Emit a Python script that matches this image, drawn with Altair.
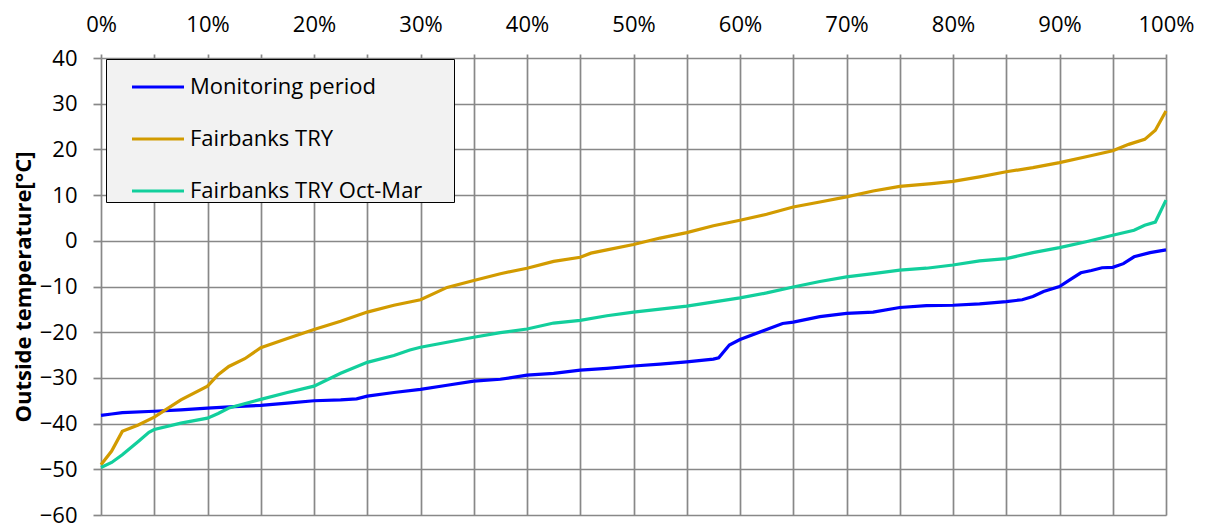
import altair as alt
import pandas as pd

# ---- data ----
mon_x = [0, 1, 2, 5, 7.5, 10, 12.5, 15, 17.5, 20, 22.5, 24, 25, 27.5, 30, 32.5, 35, 37.5, 40, 42.5,
         45, 47.5, 50, 52.5, 55, 57.5, 58, 59, 60, 62.5, 64, 65, 67.5, 70, 72.5, 75, 77.5, 80, 82.5,
         85, 86.5, 87.5, 88.5, 90, 91, 92, 93, 94, 95, 96, 97, 98.5, 100]
mon_y = [-38.2, -37.9, -37.6, -37.3, -37.0, -36.6, -36.3, -36.0, -35.5, -35.0, -34.8, -34.6, -34.0,
         -33.2, -32.5, -31.6, -30.7, -30.3, -29.4, -29.0, -28.3, -27.9, -27.4, -27.0, -26.5, -25.9,
         -25.6, -22.8, -21.6, -19.4, -18.1, -17.8, -16.6, -15.9, -15.6, -14.6, -14.2, -14.1, -13.8,
         -13.3, -12.9, -12.2, -11.1, -10.0, -8.5, -7.0, -6.5, -5.9, -5.8, -5.0, -3.5, -2.6, -2.0]

try_x = [0, 1, 2, 3.5, 5, 7.5, 10, 11, 12, 13.5, 15, 17.5, 20, 22.5, 25, 27.5, 30, 32.5, 35, 37.5,
         40, 42.5, 45, 46, 47.5, 50, 52.5, 55, 57.5, 60, 62.5, 65, 67.5, 70, 72.5, 75, 78, 80, 82.5,
         85, 87.5, 90, 92.5, 95, 96.5, 98, 99, 100]
try_y = [-49.0, -46.0, -41.7, -40.3, -38.6, -34.8, -31.8, -29.3, -27.5, -25.8, -23.4, -21.4, -19.4,
         -17.6, -15.6, -14.1, -12.9, -10.2, -8.7, -7.2, -6.0, -4.5, -3.6, -2.7, -2.0, -0.8, 0.6, 1.8,
         3.3, 4.5, 5.8, 7.4, 8.5, 9.6, 10.9, 11.9, 12.5, 13.0, 14.0, 15.1, 16.0, 17.1, 18.4, 19.7,
         21.1, 22.2, 24.2, 28.4]

om_x = [0, 1, 2, 3.5, 4.5, 5, 7.5, 10, 11, 12, 15, 17.5, 20, 22.5, 25, 27.5, 29, 30, 32.5, 35, 37.5,
        40, 42.5, 45, 47.5, 50, 55, 60, 62.5, 65, 67.5, 70, 72.5, 75, 77.5, 80, 82.5, 85, 87.5, 90,
        92.5, 95, 97, 98, 99, 100]
om_y = [-49.6, -48.5, -46.8, -43.9, -41.9, -41.3, -39.9, -38.8, -37.8, -36.6, -34.7, -33.2, -31.8,
        -29.0, -26.6, -25.1, -23.9, -23.3, -22.2, -21.1, -20.1, -19.3, -18.0, -17.4, -16.4, -15.6,
        -14.3, -12.5, -11.4, -10.1, -8.9, -7.9, -7.2, -6.4, -6.0, -5.3, -4.4, -3.9, -2.6, -1.5, -0.2,
        1.2, 2.3, 3.4, 4.1, 8.9]

series_names = ["Monitoring period", "Fairbanks TRY", "Fairbanks TRY Oct-Mar"]
series_colors = ["#0000FF", "#D29B00", "#12CF9C"]
x_ticks = [i / 20 for i in range(21)]
y_ticks = list(range(-60, 41, 10))

rows = []
for name, xs, ys in zip(series_names, [mon_x, try_x, om_x], [mon_y, try_y, om_y]):
    for i, (a, b) in enumerate(zip(xs, ys)):
        rows.append({"series": name, "p": a / 100.0, "t": b, "order": i})
df = pd.DataFrame(rows)

FONT = "Open Sans"
GRID = "#888888"
FS = 22

chart = alt.Chart(df).mark_line(strokeWidth=3.2).encode(
    x=alt.X("p:Q",
            scale=alt.Scale(domain=[0, 1], nice=False, zero=False),
            axis=alt.Axis(orient="top", values=x_ticks, format=".0%",
                          labelExpr="round(datum.value*100) % 10 == 0 ? datum.label : ''",
                          title=None, grid=True, gridColor=GRID, gridWidth=1.7,
                          tickColor=GRID, tickWidth=1.7, tickSize=4, domain=False,
                          labelFont=FONT, labelFontSize=FS, labelColor="black",
                          labelPadding=18, labelFlush=False)),
    y=alt.Y("t:Q",
            scale=alt.Scale(domain=[-60, 40], nice=False, zero=False),
            axis=alt.Axis(values=y_ticks, title="Outside temperature[°C]",
                          grid=True, gridColor=GRID, gridWidth=1.7,
                          tickColor=GRID, tickWidth=1.7, tickSize=8, domain=False,
                          labelFont=FONT, labelFontSize=FS, labelColor="black",
                          labelPadding=16,
                          titleFont=FONT, titleFontSize=22, titleFontWeight="bold",
                          titleColor="black", titlePadding=4)),
    color=alt.Color("series:N",
                    scale=alt.Scale(domain=series_names, range=series_colors),
                    legend=alt.Legend(orient="none", legendX=5, legendY=1,
                                      title=" ", titleOrient="right", titlePadding=32,
                                      titleFontSize=FS,
                                      symbolType="stroke", symbolSize=2704,
                                      symbolStrokeWidth=3.2, symbolOffset=24,
                                      labelFont=FONT, labelFontSize=FS, labelColor="black",
                                      labelLimit=500,
                                      labelOffset=4, padding=0, rowPadding=13,
                                      fillColor="#F2F2F2", strokeColor="black")),
    order="order:Q",
).properties(
    width=1065, height=457,
    autosize=alt.AutoSizeParams(type="none"),
    padding={"left": 93, "top": 50, "right": 38, "bottom": 16},
).configure_view(stroke=None).configure(background="white")

chart.save("out.html", embed_options={"renderer": "svg", "actions": False})
